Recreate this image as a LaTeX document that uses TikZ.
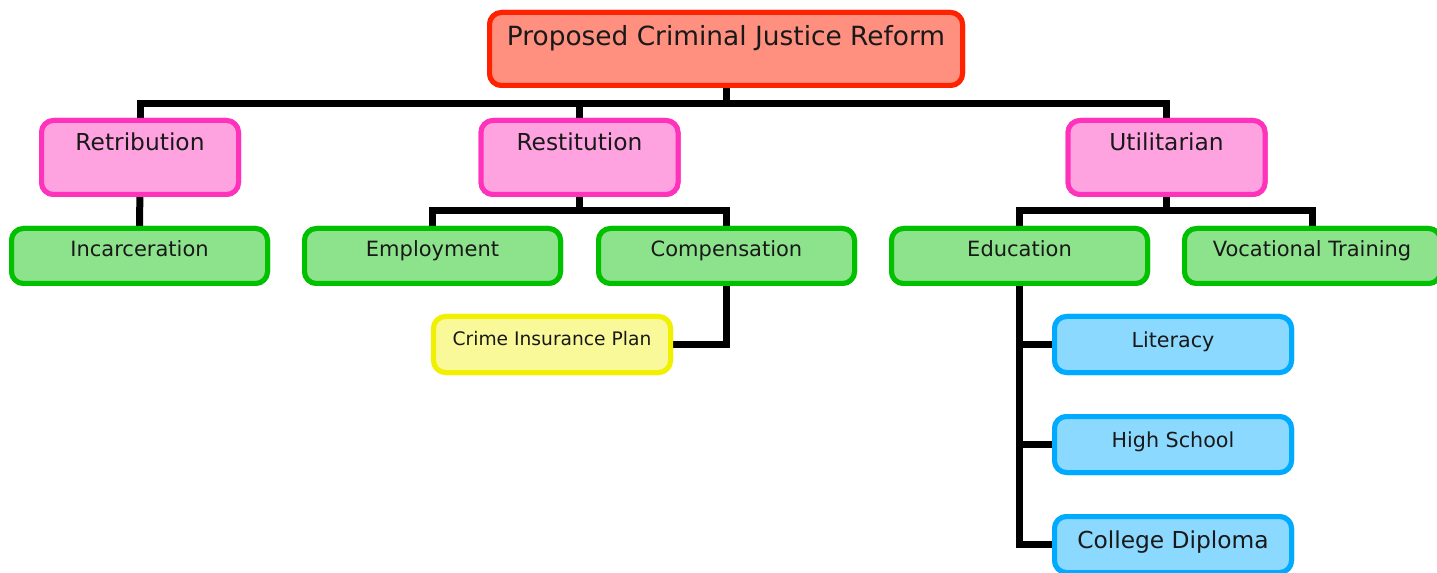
\documentclass[tikz,border=0pt]{standalone}
\usepackage{fontspec}
\setmainfont{DejaVu Sans}
\definecolor{cRed}{HTML}{FF2200}
\definecolor{cPink}{HTML}{FF33BB}
\definecolor{cGreen}{HTML}{00C000}
\definecolor{cYellow}{HTML}{F0F000}
\definecolor{cBlue}{HTML}{00AAFF}
\tikzset{
  box/.style={draw, rounded corners=9pt, line width=3.75pt, inner sep=0pt},
  rootbox/.style={box, draw=cRed, fill=cRed!50, minimum width=354.75pt, minimum height=54.75pt},
  pinkbox/.style={box, draw=cPink, fill=cPink!45, minimum width=147.75pt, minimum height=55.5pt},
  greenbox/.style={box, draw=cGreen, fill=cGreen!45, minimum width=192pt, minimum height=41.25pt},
  yellowbox/.style={box, draw=cYellow, fill=cYellow!40, minimum width=177.75pt, minimum height=42pt},
  bluebox/.style={box, draw=cBlue, fill=cBlue!45, minimum width=177.75pt, minimum height=42pt},
  lbl/.style={anchor=base, inner sep=0pt, text=black!90},
  conn/.style={line width=5.25pt, line join=miter, line cap=butt}
}
\begin{document}
\begin{tikzpicture}[x=0.75pt, y=-0.75pt]
\useasboundingbox (0,0) rectangle (1437,573);
\clip (0,0) rectangle (1437,573);
% boxes (positions)
\node[rootbox] (root) at (726,49) {};
\node[pinkbox] (retr) at (140,157.5) {};
\node[pinkbox] (rest) at (579.5,157.5) {};
\node[pinkbox] (util) at (1166.5,157.5) {};
\node[greenbox] (inc) at (139.5,256) {};
\node[greenbox] (emp) at (432.5,256) {};
\node[greenbox] (comp) at (726.5,256) {};
\node[greenbox] (edu) at (1019.5,256) {};
\node[greenbox] (voc) at (1312.5,256) {};
\node[yellowbox] (cip) at (552,344.5) {};
\node[bluebox] (lit) at (1173,344.5) {};
\node[bluebox] (hs) at (1173,444.5) {};
\node[bluebox] (cd) at (1173,544.5) {};
% bus coordinates
\coordinate (bus1) at (726,104);
\coordinate (bus2) at (579.5,211);
\coordinate (bus3) at (1166.5,211);
\coordinate (cipj) at (726.5,345);
\coordinate (eduj) at (1019.5,545);
% connectors
\begin{scope}[on background layer/.style={}]
\draw[conn] (root.center) -- (bus1);
\draw[conn] (retr.center) |- (bus1) -| (util.center);
\draw[conn] (rest.center) -- (rest.center |- bus1);
\draw[conn] (retr.center) -- (inc.center);
\draw[conn] (rest.center) -- (bus2);
\draw[conn] (emp.center) |- (bus2) -| (comp.center);
\draw[conn] (util.center) -- (bus3);
\draw[conn] (edu.center) |- (bus3) -| (voc.center);
\draw[conn] (comp.center) |- (cip.center);
\draw[conn] (edu.center) |- (cd.center);
\draw[conn] (edu.center |- lit.center) -- (lit.center);
\draw[conn] (edu.center |- hs.center) -- (hs.center);
\end{scope}
% redraw boxes over connectors
\node[rootbox] at (root) {};
\node[pinkbox] at (retr) {};
\node[pinkbox] at (rest) {};
\node[pinkbox] at (util) {};
\node[greenbox] at (inc) {};
\node[greenbox] at (emp) {};
\node[greenbox] at (comp) {};
\node[greenbox] at (edu) {};
\node[greenbox] at (voc) {};
\node[yellowbox] at (cip) {};
\node[bluebox] at (lit) {};
\node[bluebox] at (hs) {};
\node[bluebox] at (cd) {};
% labels
\node[lbl, font=\fontsize{19.8pt}{24pt}\selectfont] (rootT) at (726,46) {Proposed Criminal Justice Reform};
\node[lbl, font=\fontsize{17.5pt}{21pt}\selectfont] (retrT) at (140,151) {Retribution};
\node[lbl, font=\fontsize{17.5pt}{21pt}\selectfont] (restT) at (579.5,151) {Restitution};
\node[lbl, font=\fontsize{17.5pt}{21pt}\selectfont] (utilT) at (1166.5,151) {Utilitarian};
\node[lbl, font=\fontsize{15.75pt}{19pt}\selectfont] (incT) at (139.5,257) {Incarceration};
\node[lbl, font=\fontsize{15.75pt}{19pt}\selectfont] (empT) at (432.5,257) {Employment};
\node[lbl, font=\fontsize{15.75pt}{19pt}\selectfont] (compT) at (726.5,257) {Compensation};
\node[lbl, font=\fontsize{15.75pt}{19pt}\selectfont] (eduT) at (1019.5,257) {Education};
\node[lbl, font=\fontsize{15.75pt}{19pt}\selectfont] (vocT) at (1312,257) {Vocational Training};
\node[lbl, font=\fontsize{14pt}{17pt}\selectfont] (cipT) at (552,345) {Crime Insurance Plan};
\node[lbl, font=\fontsize{15.5pt}{19pt}\selectfont] (litT) at (1173,348) {Literacy};
\node[lbl, font=\fontsize{15.5pt}{19pt}\selectfont] (hsT) at (1173,447) {High School};
\node[lbl, font=\fontsize{17.5pt}{21pt}\selectfont] (cdT) at (1173,548) {College Diploma};
\end{tikzpicture}
\end{document}
